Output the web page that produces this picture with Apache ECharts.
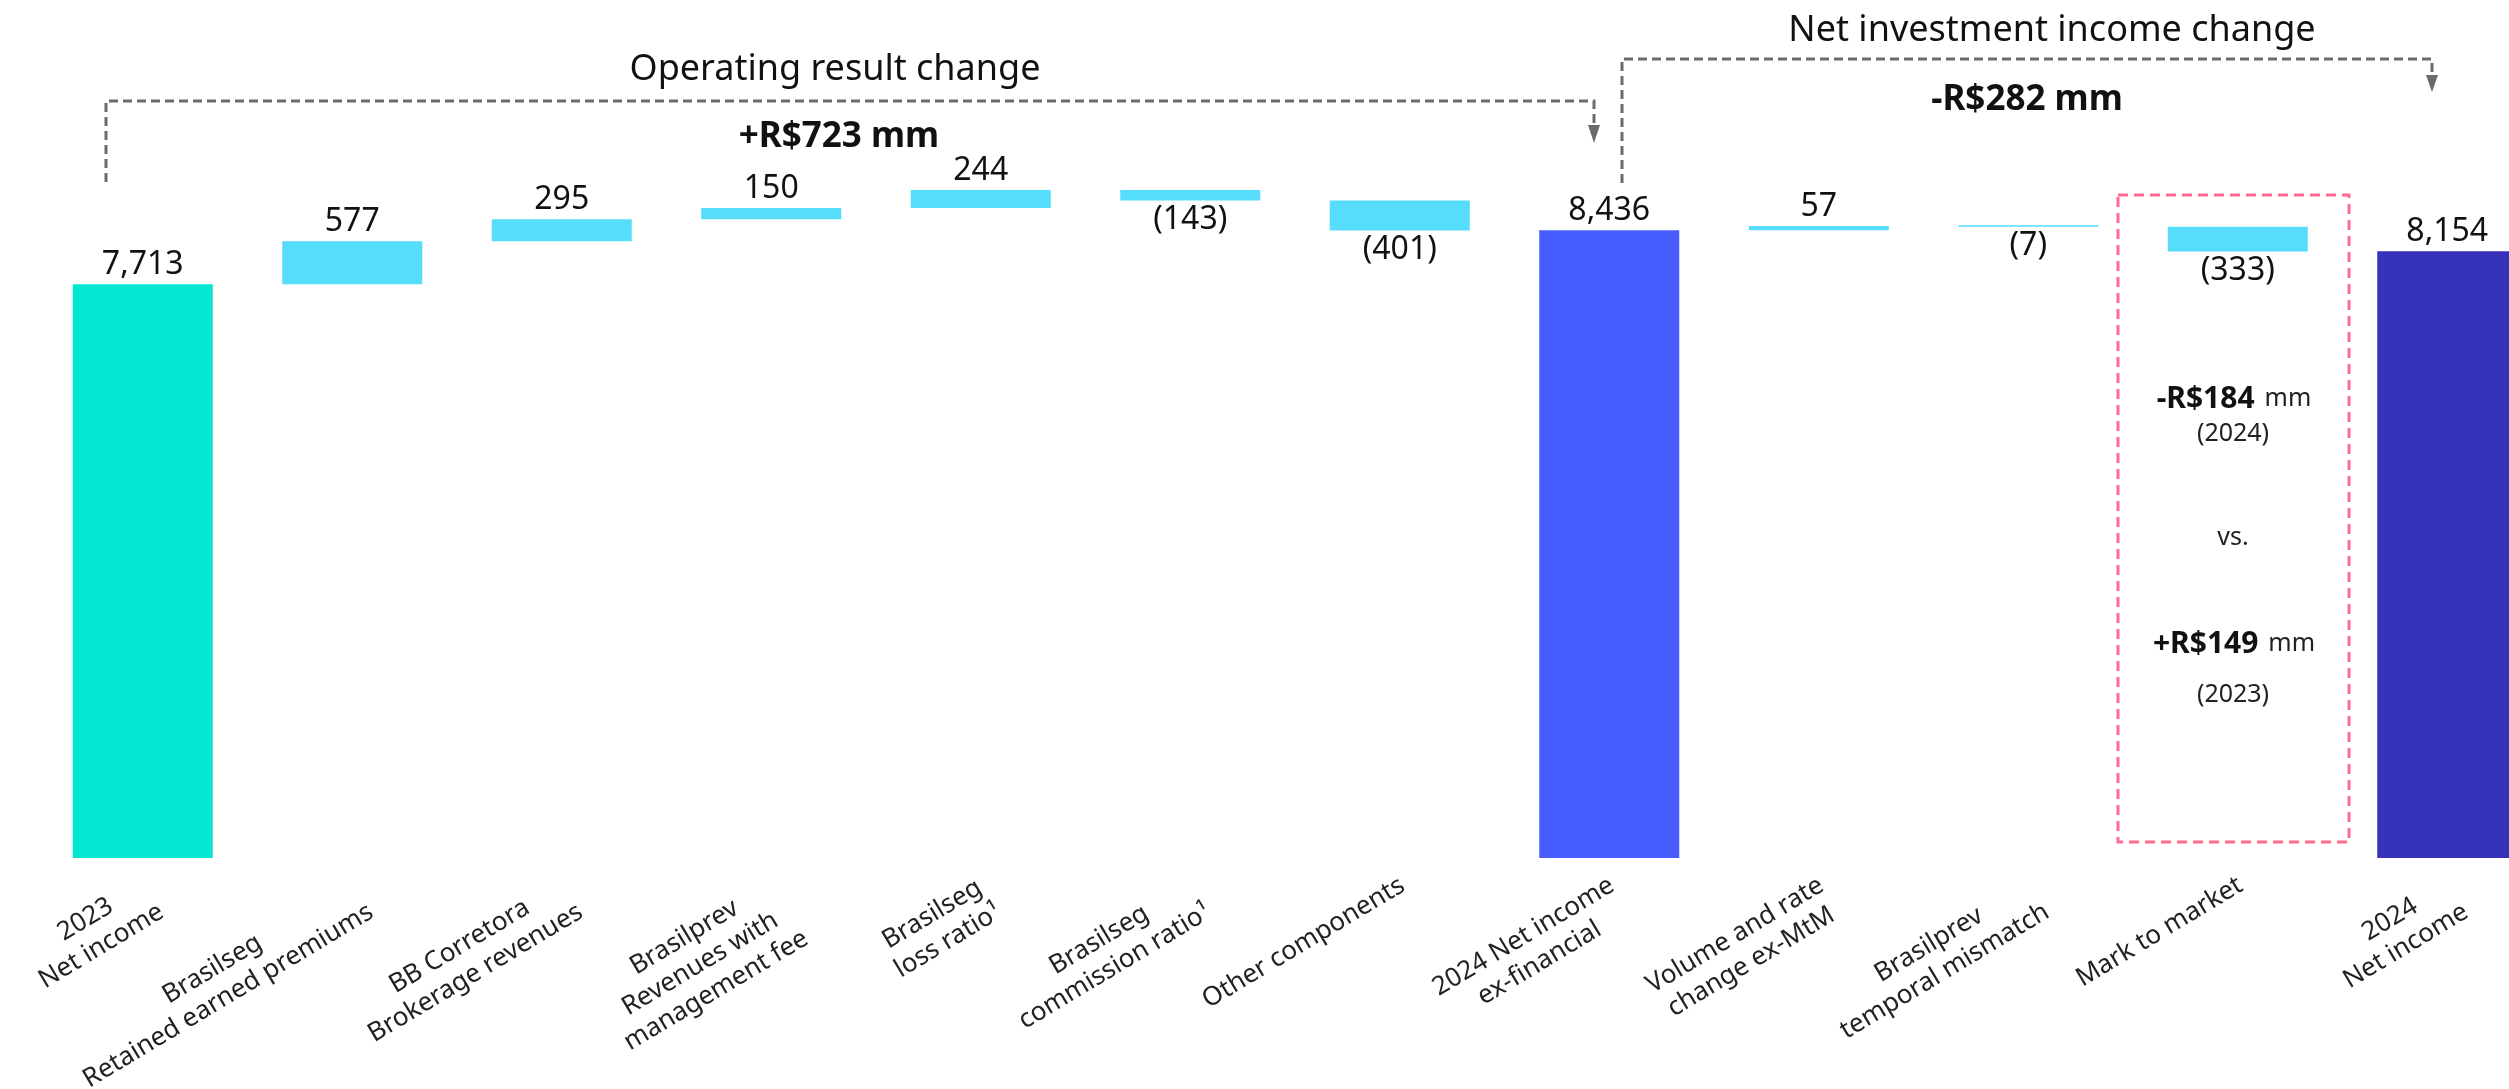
<!DOCTYPE html>
<html>
<head>
<meta charset="utf-8">
<script src="https://cdn.jsdelivr.net/npm/echarts@6/dist/echarts.min.js"></script>
<style>
  html, body { margin: 0; padding: 0; background: #fff; }
  #chart { width: 2509px; height: 1089px; }
</style>
</head>
<body>
<div id="chart"></div>
<script>
const categories = [
    '2023\nNet income',
    'Brasilseg\nRetained earned premiums',
    'BB Corretora\nBrokerage revenues',
    'Brasilprev\nRevenues with\nmanagement fee',
    'Brasilseg\nloss ratio¹',
    'Brasilseg\ncommission ratio¹',
    'Other components',
    '2024 Net income\nex-financial',
    'Volume and rate\nchange ex-MtM',
    'Brasilprev\ntemporal mismatch',
    'Mark to market',
    '2024\nNet income'
];
const values = [7713, 577, 295, 150, 244, -143, -401, 8436, 57, -7, -333, 8154];
const isTotal = [true, false, false, false, false, false, false, true, false, false, false, true];
const totalColors = { 0: '#02E8D0', 7: '#465CFF', 11: '#3633BA' };
const deltaColor = '#55DDFB';

const font = '"Noto Sans", "Open Sans", sans-serif';

// waterfall: invisible base + visible part
const baseData = [];
const barData = [];
let running = 0;
values.forEach(function (v, i) {
    let text;
    if (isTotal[i]) {
        running = v;
        baseData.push(0);
        text = v.toLocaleString('en-US');
        barData.push({
            value: v,
            itemStyle: { color: totalColors[i] },
            label: { position: 'top', formatter: text }
        });
    } else {
        const start = running;
        running = running + v;
        baseData.push(Math.min(start, running));
        text = v < 0 ? '(' + Math.abs(v) + ')' : String(v);
        barData.push({
            value: Math.abs(v),
            itemStyle: { color: deltaColor },
            label: { position: v < 0 ? 'bottom' : 'top', formatter: text }
        });
    }
});

const dash = '#6b6b6b';
const pink = '#FF6B8E';
const boxRich = {
    b: { fontSize: 30, fontWeight: 'bold', fontFamily: font, fill: '#111', padding: [0, 10, 0, 0] },
    n: { fontSize: 25, fontFamily: font, fill: '#222' }
};

const chart = echarts.init(document.getElementById('chart'));
const option = {
    animation: false,
    grid: { left: 38, right: -43, top: 114, bottom: 231, containLabel: false, outerBoundsMode: 'none' },
    xAxis: {
        type: 'category',
        data: categories,
        axisLine: { show: false },
        axisTick: { show: false },
        axisLabel: {
            interval: 0,
            rotate: 31,
            margin: 9,
            align: 'right',
            verticalAlign: 'top',
            padding: [0, 6, 0, 0],
            formatter: function (v) {
                return v.split('\n').map(function (s) { return '{c|' + s + '}'; }).join('\n');
            },
            rich: {
                c: { align: 'center', fontSize: 26, lineHeight: 31, color: '#222', fontFamily: font }
            }
        }
    },
    yAxis: { type: 'value', min: 0, max: 10000, show: false },
    series: [{
        name: 'base',
        type: 'bar',
        stack: 'w',
        barWidth: 140,
        itemStyle: { color: 'transparent' },
        emphasis: { disabled: true },
        data: baseData
    }, {
        name: 'value',
        type: 'bar',
        stack: 'w',
        barWidth: 140,
        barMinHeight: 1.5,
        label: {
            show: true,
            distance: 3,
            fontSize: 32,
            color: '#111',
            fontFamily: font
        },
        data: barData
    }],
    graphic: [
        // operating result bracket
        { type: 'polyline', shape: { points: [[106, 182], [106, 101], [1594, 101], [1594, 127]] },
          style: { stroke: dash, lineWidth: 3, lineDash: [9, 5], fill: null } },
        { type: 'polygon', shape: { points: [[1588, 125], [1600, 125], [1594, 143]] }, style: { fill: dash } },
        { type: 'text', x: 835, y: 70,
          style: { text: 'Operating result change', font: '36px ' + font, fill: '#111', align: 'center', verticalAlign: 'middle' } },
        { type: 'text', x: 839, y: 137,
          style: { text: '+R$723 mm', font: 'bold 35px ' + font, fill: '#111', align: 'center', verticalAlign: 'middle' } },
        // net investment bracket
        { type: 'polyline', shape: { points: [[1622, 183], [1622, 59], [2432, 59], [2432, 77]] },
          style: { stroke: dash, lineWidth: 3, lineDash: [9, 5], fill: null } },
        { type: 'polygon', shape: { points: [[2426, 75], [2438, 75], [2432, 92]] }, style: { fill: dash } },
        { type: 'text', x: 2052, y: 31,
          style: { text: 'Net investment income change', font: '36px ' + font, fill: '#111', align: 'center', verticalAlign: 'middle' } },
        { type: 'text', x: 2027, y: 100,
          style: { text: '-R$282 mm', font: 'bold 35px ' + font, fill: '#111', align: 'center', verticalAlign: 'middle' } },
        // mark to market box
        { type: 'rect', shape: { x: 2118, y: 195, width: 231, height: 647 },
          style: { stroke: pink, lineWidth: 3, lineDash: [10, 6], fill: null } },
        { type: 'text', x: 2234, y: 399,
          style: { text: '{b|-R$184}{n|mm}', align: 'center', verticalAlign: 'middle', rich: boxRich } },
        { type: 'text', x: 2233, y: 434,
          style: { text: '(2024)', font: '25px ' + font, fill: '#222', align: 'center', verticalAlign: 'middle' } },
        { type: 'text', x: 2233, y: 538,
          style: { text: 'vs.', font: '25px ' + font, fill: '#222', align: 'center', verticalAlign: 'middle' } },
        { type: 'text', x: 2234, y: 644,
          style: { text: '{b|+R$149}{n|mm}', align: 'center', verticalAlign: 'middle', rich: boxRich } },
        { type: 'text', x: 2233, y: 695,
          style: { text: '(2023)', font: '25px ' + font, fill: '#222', align: 'center', verticalAlign: 'middle' } },
        { type: 'text', x: 2447, y: 820,
          style: { text: '+5.7%', font: '27px ' + font, fill: '#E4E4F7', align: 'center', verticalAlign: 'middle' } }
    ]
};
chart.setOption(option);
</script>
</body>
</html>
